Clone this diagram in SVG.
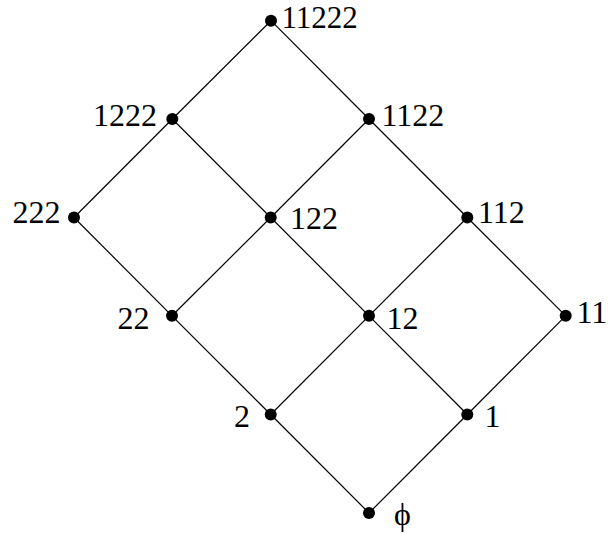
<svg xmlns="http://www.w3.org/2000/svg" width="608" height="533" viewBox="0 0 608 533">
<style>
.e{stroke:#000;stroke-width:1.2;fill:none}
.d{fill:#000}
text{font-family:"Liberation Serif","Times New Roman",serif;font-size:32px;fill:#000}
.r{text-anchor:end}
</style>
<rect width="608" height="533" fill="#fff"/>
<g id="connectors" class="e">
<line x1="271" y1="20.7" x2="172.3" y2="119"/>
<line x1="271" y1="20.7" x2="369" y2="119"/>
<line x1="172.3" y1="119" x2="74" y2="217.5"/>
<line x1="172.3" y1="119" x2="270.7" y2="217.5"/>
<line x1="369" y1="119" x2="270.7" y2="217.5"/>
<line x1="369" y1="119" x2="467.3" y2="217.5"/>
<line x1="74" y1="217.5" x2="172" y2="315.8"/>
<line x1="270.7" y1="217.5" x2="172" y2="315.8"/>
<line x1="270.7" y1="217.5" x2="369" y2="315.8"/>
<line x1="467.3" y1="217.5" x2="369" y2="315.8"/>
<line x1="467.3" y1="217.5" x2="565.7" y2="315.8"/>
<line x1="172" y1="315.8" x2="270.7" y2="414.5"/>
<line x1="369" y1="315.8" x2="270.7" y2="414.5"/>
<line x1="369" y1="315.8" x2="467.3" y2="414.5"/>
<line x1="565.7" y1="315.8" x2="467.3" y2="414.5"/>
<line x1="270.7" y1="414.5" x2="369" y2="513"/>
<line x1="467.3" y1="414.5" x2="369" y2="513"/>
</g>
<g id="n11222"><circle class="d" cx="271" cy="20.7" r="6"/><text x="281.5" y="27.5" style="font-size:31px">11222</text></g>
<g id="n1222"><circle class="d" cx="172.3" cy="119" r="6"/><text class="r" x="157" y="126">1222</text></g>
<g id="n1122"><circle class="d" cx="369" cy="119" r="6"/><text x="381.5" y="126">1122</text></g>
<g id="n222"><circle class="d" cx="74" cy="217.5" r="6"/><text class="r" x="60.5" y="223">222</text></g>
<g id="n122"><circle class="d" cx="270.7" cy="217.5" r="6"/><text x="290" y="229.3">122</text></g>
<g id="n112"><circle class="d" cx="467.3" cy="217.5" r="6"/><text x="478" y="222.7">112</text></g>
<g id="n22"><circle class="d" cx="172" cy="315.8" r="6"/><text class="r" x="149.5" y="329.3">22</text></g>
<g id="n12"><circle class="d" cx="369" cy="315.8" r="6"/><text x="386.5" y="329.3">12</text></g>
<g id="n11"><circle class="d" cx="565.7" cy="315.8" r="6"/><text x="576.5" y="322.7">11</text></g>
<g id="n2"><circle class="d" cx="270.7" cy="414.5" r="6"/><text class="r" x="250" y="426.7">2</text></g>
<g id="n1"><circle class="d" cx="467.3" cy="414.5" r="6"/><text x="484.5" y="426.7">1</text></g>
<g id="nphi"><circle class="d" cx="369" cy="513" r="6"/><text x="394" y="525">ϕ</text></g>
</svg>
